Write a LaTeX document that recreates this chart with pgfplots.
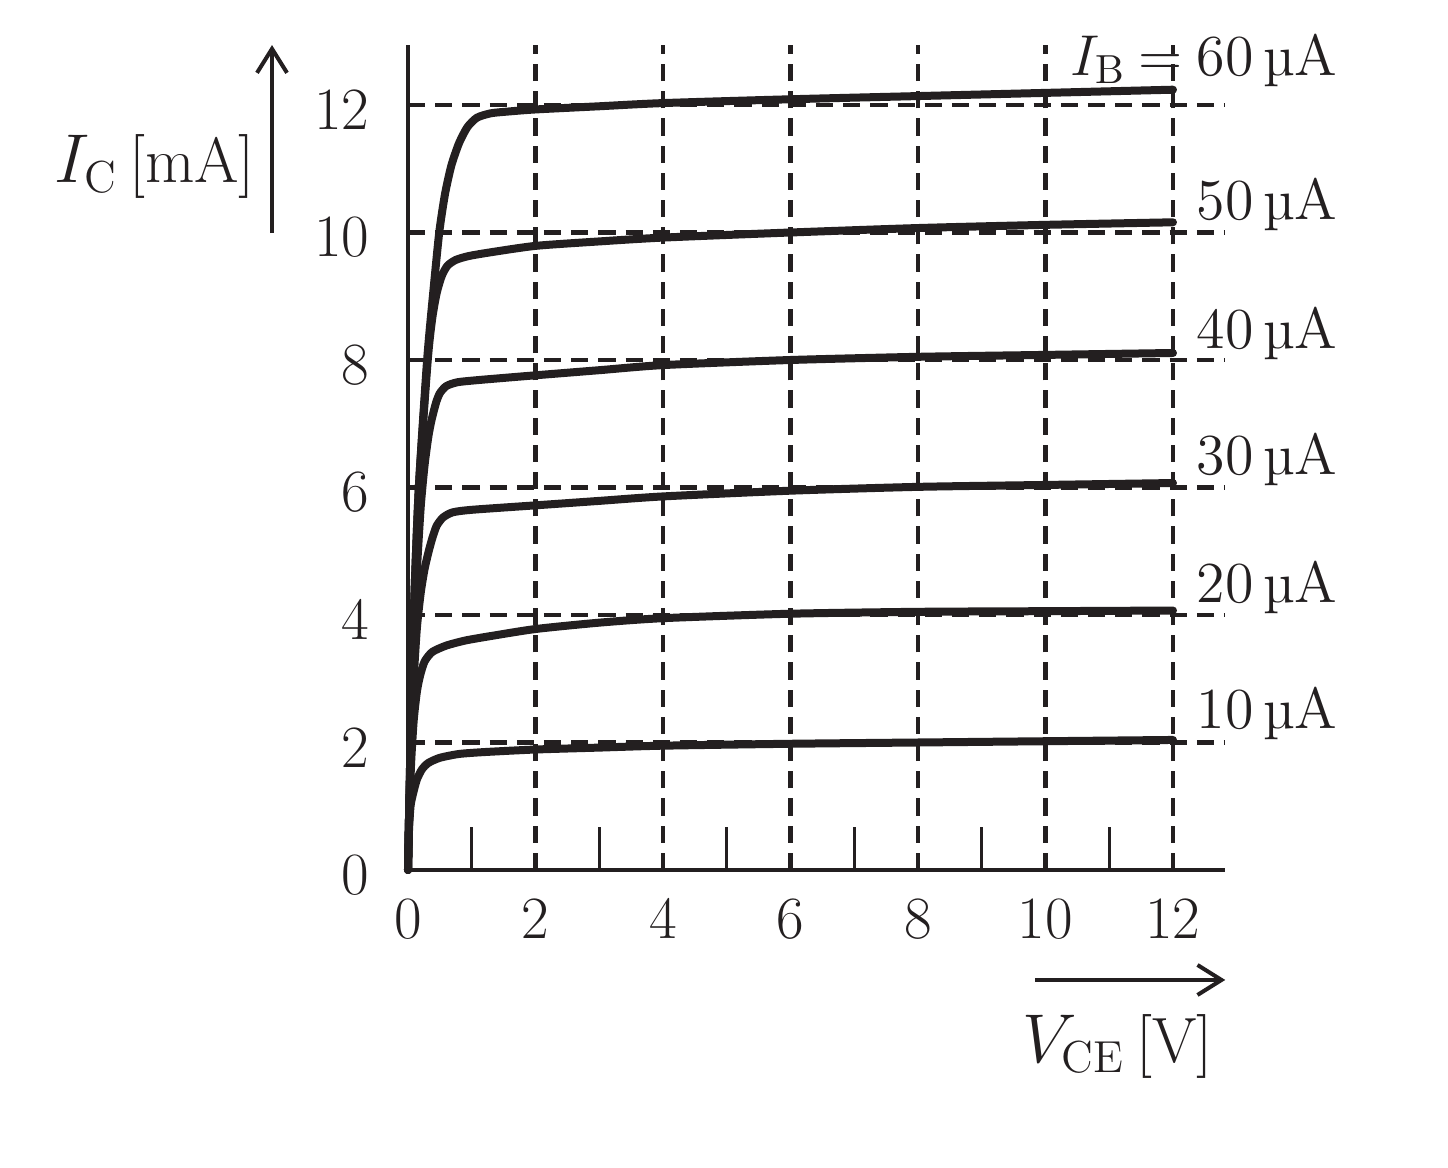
\documentclass[border=0pt]{standalone}
\usepackage{fontspec}
\usepackage{pgfplots}
\pgfplotsset{compat=1.18}
\usetikzlibrary{arrows.meta}
\definecolor{ink}{HTML}{231F20}
\newcommand\tk{\fontsize{15}{18}\selectfont}
\newcommand\cl{\fontsize{14.5}{17}\selectfont}
\newcommand\al{\fontsize{16}{19}\selectfont}

\pgfplotstableread{
x y
0 0
0.02 1
0.04 2
0.09 4
0.17 6
0.3 8
0.4 9.1
0.49 10
0.58 10.6
0.68 11.05
0.8 11.4
0.93 11.65
1.08 11.8
1.3 11.87
1.6 11.9
2 11.93
3 11.98
4 12.03
6 12.09
8 12.14
10 12.19
12 12.24
}\ibsixty
\pgfplotstableread{
x y
0 0
0.02 1
0.04 2
0.09 4
0.17 6
0.31 8
0.38 8.65
0.45 9.05
0.53 9.32
0.62 9.48
0.75 9.57
0.95 9.63
1.3 9.69
2 9.79
3 9.86
4 9.92
6 10.0
8 10.07
10 10.12
12 10.16
}\ibfifty
\pgfplotstableread{
x y
0 0
0.02 1
0.045 2
0.09 3.5
0.14 4.7
0.2 5.7
0.26 6.35
0.32 6.8
0.37 7.06
0.44 7.33
0.5 7.48
0.6 7.59
0.77 7.65
1.1 7.685
2 7.76
3 7.84
4 7.92
6 8.0
8 8.05
10 8.08
12 8.11
}\ibforty
\pgfplotstableread{
x y
0 0
0.02 1
0.05 2
0.09 3
0.14 3.8
0.2 4.35
0.26 4.72
0.32 4.98
0.38 5.2
0.45 5.4
0.55 5.53
0.7 5.61
1 5.65
2 5.72
3 5.79
4 5.86
6 5.95
8 6.01
10 6.04
12 6.07
}\ibthirty
\pgfplotstableread{
x y
0 0
0.02 0.9
0.05 1.7
0.09 2.35
0.14 2.8
0.19 3.05
0.26 3.27
0.38 3.42
0.6 3.52
0.9 3.6
1.3 3.67
2 3.78
3 3.88
4 3.95
6 4.02
8 4.05
10 4.06
12 4.07
}\ibtwenty
\pgfplotstableread{
x y
0 0
0.015 0.6
0.04 1.0
0.08 1.2
0.14 1.42
0.22 1.58
0.32 1.68
0.5 1.76
0.8 1.82
1.2 1.85
2 1.89
3 1.92
4 1.95
6 1.98
8 2.0
10 2.02
12 2.04
}\ibten

\begin{document}
\begin{tikzpicture}
\begin{axis}[
  x=15.9375pt, y=15.9375pt,
  xmin=0, xmax=12.82, ymin=0, ymax=12.94,
  axis lines=left,
  axis line style={-, line width=1pt, ink},
  xtick={0,2,...,12}, ytick={0,2,...,12},
  minor xtick={1,3,...,11},
  major tick length=0pt,
  minor tick length=10.75pt,
  tick align=inside,
  minor tick style={line width=0.8pt, ink},
  major tick style={draw=none},
  grid=major,
  major grid style={dash pattern=on 4.3pt off 2.5pt, line width=1.15pt, ink},
  clip=false,
  /pgf/number format/assume math mode=true,
  ticklabel style={font=\tk, text=ink},
  xticklabel style={anchor=north, inner sep=0pt, yshift=-7pt},
  yticklabel style={anchor=east, inner sep=0pt, xshift=-9.5pt, yshift=-1.2pt},
  curve/.style={draw=ink, line width=2pt, line cap=round, line join=round, smooth, tension=0.4, mark=none},
]
\addplot[curve] table[x=x,y=y] {\ibten};
\addplot[curve] table[x=x,y=y] {\ibtwenty};
\addplot[curve] table[x=x,y=y] {\ibthirty};
\addplot[curve] table[x=x,y=y] {\ibforty};
\addplot[curve] table[x=x,y=y] {\ibfifty};
\addplot[curve] table[x=x,y=y] {\ibsixty};

\node[anchor=base west, inner sep=0pt, font=\cl, text=ink] at (axis cs:12.36,12.47) {\llap{$I_{\mathrm{B}}$\hspace{3pt}=\hspace{3.5pt}}60\,µA};
\node[anchor=base west, inner sep=0pt, font=\cl, text=ink] at (axis cs:12.36,10.2) {50\,µA};
\node[anchor=base west, inner sep=0pt, font=\cl, text=ink] at (axis cs:12.36,8.18) {40\,µA};
\node[anchor=base west, inner sep=0pt, font=\cl, text=ink] at (axis cs:12.36,6.2) {30\,µA};
\node[anchor=base west, inner sep=0pt, font=\cl, text=ink] at (axis cs:12.36,4.2) {20\,µA};
\node[anchor=base west, inner sep=0pt, font=\cl, text=ink] at (axis cs:12.36,2.22) {10\,µA};

\node[anchor=base, inner sep=0pt, font=\al, text=ink] at (axis cs:-3.969,10.79) {$I_{\mathrm{C}}$\,[mA]};
\node[anchor=base, inner sep=0pt, font=\al, text=ink] at (axis cs:11.13,-3.012) {$V_{\mathrm{CE}}$\,[V]};

\draw[line width=1pt, ink, -{Straight Barb[length=6pt, width=7.5pt, line width=1pt]}] (axis cs:-2.133,9.99) -- (axis cs:-2.133,12.94);
\draw[line width=1pt, ink, -{Straight Barb[length=6pt, width=7.5pt, line width=1pt]}] (axis cs:9.84,-1.725) -- (axis cs:12.82,-1.725);

\coordinate (bbl) at (axis cs:-6.4,-4.6745);
\coordinate (btr) at (axis cs:16.3137,13.647);
\end{axis}
\pgfresetboundingbox
\useasboundingbox (bbl) rectangle (btr);
\end{tikzpicture}
\end{document}
